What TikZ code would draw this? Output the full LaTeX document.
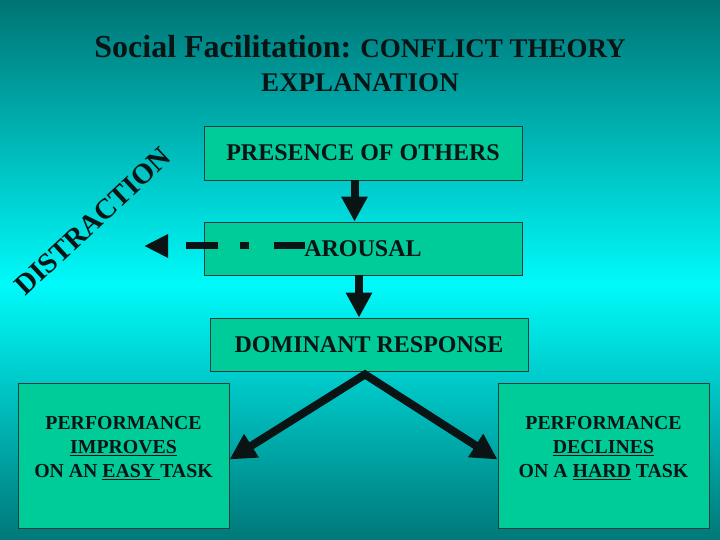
\documentclass[tikz,border=0pt]{standalone}
\usepackage{fontspec}
\setmainfont{Liberation Serif}
\usetikzlibrary{arrows.meta, positioning}
\definecolor{cdeep}{HTML}{007474}
\definecolor{cglow}{HTML}{00FAFA}
\definecolor{cfloor}{HTML}{007878}
\definecolor{cbox}{HTML}{00CC99}
\definecolor{cedge}{HTML}{1E3C3C}
\definecolor{cink}{HTML}{0A1414}
\tikzset{
  every picture/.style={x=1pt, y=1pt, text=cink},
  box/.style={draw=cedge, fill=cbox, line width=0.9pt, align=center, inner sep=0pt, minimum width=318pt, minimum height=54pt, font=\bfseries\fontsize{24}{28}\selectfont},
  task/.style={draw=cedge, fill=cbox, line width=0.9pt, align=center, inner sep=0pt, minimum width=211pt, minimum height=145pt, text depth=17pt, font=\bfseries\fontsize{19.8}{24}\selectfont},
  flow/.style={-{Triangle[length=25pt, width=25pt]}, line width=8pt, draw=cink},
  fork/.style={{Triangle[length=26pt, width=26pt]}-{Triangle[length=26pt, width=26pt]}, line width=8pt, draw=cink, line join=miter},
  distract/.style={-{Triangle[length=24pt, width=22pt]}, line width=7pt, draw=cink, dash pattern=on 31pt off 25pt on 9pt off 22pt on 32pt off 60pt},
  title/.style={font=\bfseries\fontsize{27}{34}\selectfont, align=center},
  side/.style={font=\bfseries\fontsize{28.5}{30}\selectfont},
}

\begin{document}
\begin{tikzpicture}
  \useasboundingbox (0,0) rectangle (720,540);
  \shade[top color=cdeep, bottom color=cglow] (0,255) rectangle (720,540);
  \shade[top color=cglow, bottom color=cfloor] (0,0) rectangle (720,255);
  \node[title] (head) at (360,476) {{\fontsize{32}{34}\selectfont Social Facilitation:} CONFLICT THEORY\\EXPLANATION};
  \node[box] (pres) at (363,387) {PRESENCE OF OTHERS};
  \node[box, minimum height=53pt] (arou) at (363,291.5) {AROUSAL};
  \node[box, minimum height=53pt] (dom) at (369,195.5) {DOMINANT RESPONSE};
  \node[task] (easy) at (123.5,84.5) {PERFORMANCE\\\underline{IMPROVES}\\ON AN \underline{EASY\ }TASK};
  \node[task] (hard) at (603.5,84.5) {PERFORMANCE\\\underline{DECLINES}\\ON A \underline{HARD} TASK};
  \node[side, rotate=43] (distr) at (93,318.5) {DISTRACTION};
  \coordinate (away) at (144,294);
  \draw[flow] ([xshift=-8.5pt]pres.south) -- ([xshift=-8.5pt]pres.south |- arou.north);
  \draw[flow] ([xshift=-4pt]arou.south) -- ([xshift=-4pt]arou.south |- dom.north);
  \draw[fork] ([yshift=-4pt]easy.east) -- ([xshift=-4pt,yshift=-3pt]dom.south) -- ([yshift=-4pt]hard.west);
  \draw[distract] ([xshift=-58pt,yshift=2.5pt]arou.center) -- (away);
\end{tikzpicture}
\end{document}
